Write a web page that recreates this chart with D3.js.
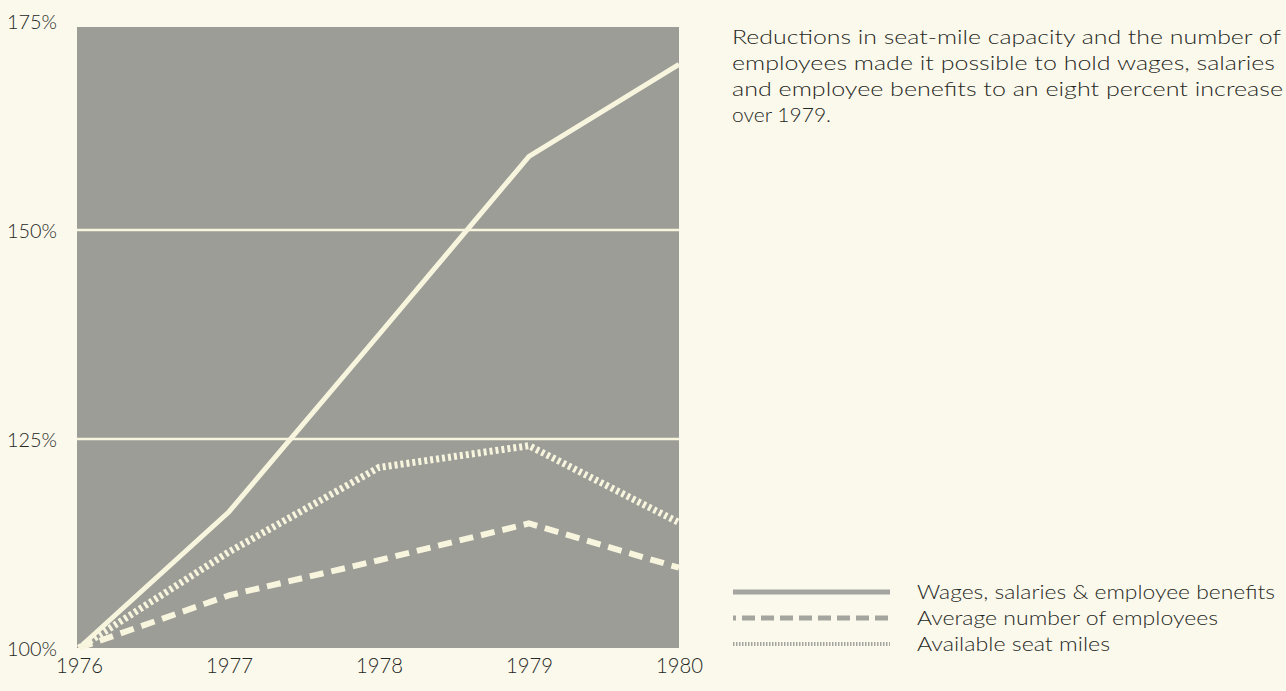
<!DOCTYPE html>
<html>
<head>
<meta charset="utf-8">
<script src="https://cdn.jsdelivr.net/npm/d3@7"></script>
<style>
  html, body { margin: 0; padding: 0; background: #fbf9ec; }
  svg { display: block; font-family: "Lato", "Open Sans", sans-serif; font-weight: 300; }
</style>
</head>
<body>
<svg id="chart" width="1286" height="691"></svg>
<script>
// data
const years = [1976, 1977, 1978, 1979, 1980];
const wages = [100, 116.3, 137.5, 158.8, 169.8];
const employees = [100, 106.3, 110.5, 114.9, 109.6];
const seatMiles = [100, 111.5, 121.6, 124.2, 115.0];
const yTicks = [100, 125, 150, 175];
const yTickLabels = ["100%", "125%", "150%", "175%"];

const note = [
  "Reductions in seat-mile capacity and the number of",
  "employees made it possible to hold wages, salaries",
  "and employee benefits to an eight percent increase",
  "over 1979."
];
const noteWidths = [549, 543, 551, 99];

const series = [
  { name: "Wages, salaries & employee benefits", values: wages, dash: null, width: 5 },
  { name: "Average number of employees", values: employees, dash: "14 8", width: 6 },
  { name: "Available seat miles", values: seatMiles, dash: "3 3", width: 7 }
];
const legendWidths = [358, 301, 193];

const lineColor = "#f8f5df";
const plotColor = "#9c9d96";
const inkColor = "#262824";

const svg = d3.select("#chart");

const plot = { left: 77, right: 679, top: 27, bottom: 648 };

const x = d3.scaleLinear()
  .domain([1976, 1980])
  .range([plot.left + 2, plot.right]);

const y = d3.scaleLinear()
  .domain([100, 175])
  .range([plot.bottom, 21]);

// grey plot area
svg.append("rect")
  .attr("x", plot.left)
  .attr("y", plot.top)
  .attr("width", plot.right - plot.left)
  .attr("height", plot.bottom - plot.top)
  .attr("fill", plotColor);

// gridlines (125, 150)
svg.selectAll(".grid")
  .data(yTicks.filter(d => d > 100 && d < 175))
  .join("line")
  .attr("class", "grid")
  .attr("x1", plot.left)
  .attr("x2", plot.right)
  .attr("y1", d => y(d))
  .attr("y2", d => y(d))
  .attr("stroke", lineColor)
  .attr("stroke-width", 2.5);

// y labels
svg.selectAll(".ylab")
  .data(yTicks)
  .join("text")
  .attr("class", "ylab")
  .attr("x", 7)
  .attr("y", d => y(d) + 8)
  .attr("font-size", 19)
  .attr("textLength", 50)
  .attr("lengthAdjust", "spacingAndGlyphs")
  .attr("fill", inkColor)
  .text((d, i) => yTickLabels[i]);

// x axis labels
const xAxis = d3.axisBottom(x)
  .tickValues(years)
  .tickFormat(d3.format("d"))
  .tickSize(0)
  .tickPadding(10);

const gx = svg.append("g")
  .attr("transform", `translate(0, ${plot.bottom})`)
  .call(xAxis);
gx.select(".domain").remove();
gx.selectAll("text")
  .attr("font-size", 21)
  .attr("font-family", "Lato, 'Open Sans', sans-serif")
  .attr("font-weight", 300)
  .attr("textLength", 47)
  .attr("lengthAdjust", "spacingAndGlyphs")
  .attr("fill", inkColor);

// lines
const line = d3.line()
  .x((d, i) => x(years[i]))
  .y(d => y(d));

svg.selectAll(".series")
  .data(series)
  .join("path")
  .attr("class", "series")
  .attr("d", d => line(d.values))
  .attr("fill", "none")
  .attr("stroke", lineColor)
  .attr("stroke-width", d => d.width)
  .attr("stroke-dasharray", d => d.dash)
  .attr("stroke-linejoin", "miter");

// note text
const noteG = svg.append("g").attr("transform", "translate(732, 0)");
noteG.selectAll("text")
  .data(note)
  .join("text")
  .attr("x", 0)
  .attr("y", (d, i) => 44 + i * 26)
  .attr("font-size", 19.5)
  .attr("textLength", (d, i) => noteWidths[i])
  .attr("lengthAdjust", "spacingAndGlyphs")
  .attr("fill", inkColor)
  .text(d => d);

// legend
const legend = svg.append("g").attr("transform", "translate(733, 0)");
const legendColor = "#a4a59f";
series.forEach((s, i) => {
  const ly = 592 + i * 26;
  legend.append("line")
    .attr("x1", 0)
    .attr("x2", 157)
    .attr("y1", ly)
    .attr("y2", ly)
    .attr("stroke", legendColor)
    .attr("stroke-width", i === 2 ? 4 : 5)
    .attr("stroke-dasharray", i === 0 ? null : (i === 1 ? "3 6 13 6 13 6 13 6 13 6 13 6 13 6 13 6 13 6 13 6" : "1.5 1.5"));
  legend.append("text")
    .attr("x", 184)
    .attr("y", ly + 7)
    .attr("font-size", 19.5)
    .attr("textLength", legendWidths[i])
    .attr("lengthAdjust", "spacingAndGlyphs")
    .attr("fill", inkColor)
    .text(s.name);
});
</script>
</body>
</html>
